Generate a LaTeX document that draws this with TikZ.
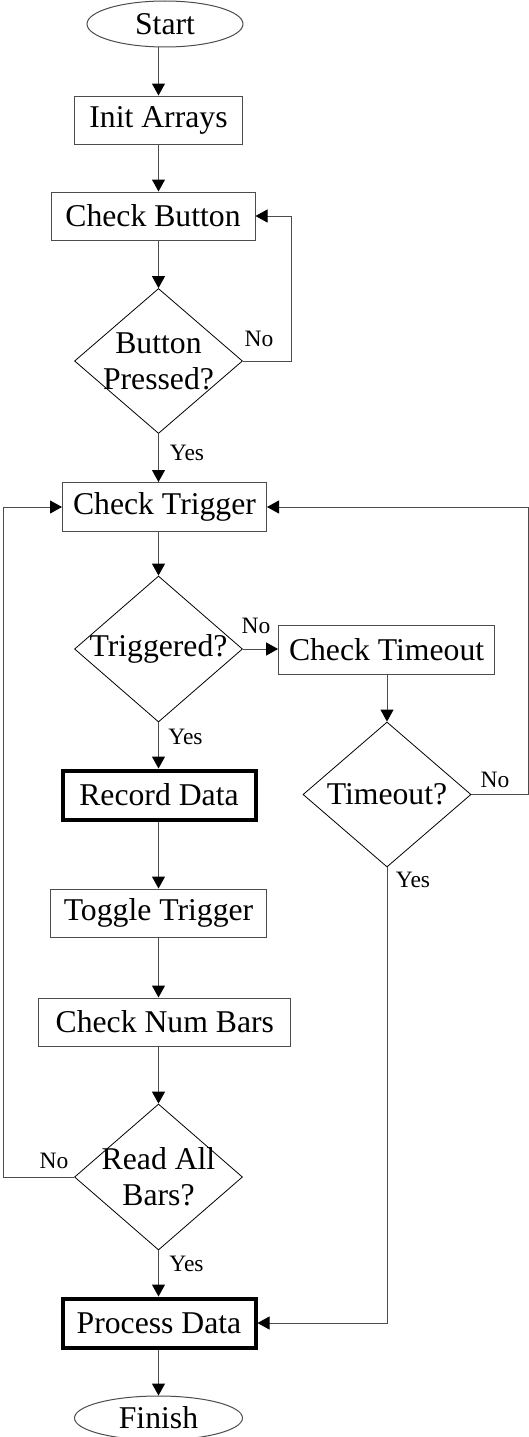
\documentclass[tikz,border=0pt]{standalone}
\usepackage{fontspec}
\setmainfont{Liberation Serif}
\usepackage{xcolor,tikz}
\usetikzlibrary{positioning,shapes.geometric,arrows.meta}
\tikzset{%
  block/.style={draw=black!70,line width=1pt,minimum height=48pt,inner sep=0pt},
  heavy/.style={draw=black,line width=4pt,minimum height=49pt,minimum width=193pt,inner sep=0pt},
  term/.style={ellipse,draw=black!70,line width=1pt,minimum height=46pt,inner sep=0pt},
  decide/.style={diamond,draw=black,line width=.8pt,minimum width=168pt,minimum height=145pt,inner sep=0pt},
  yn/.style={font=\fontsize{23.5}{26}\selectfont,inner sep=0pt},
  flow/.style={draw=black!70,line width=1pt,-{Triangle[length=12pt,width=13pt,color=black]}}
}

\begin{document}
\begin{tikzpicture}[x=1pt,y=-1pt,font=\fontsize{31.7}{36}\selectfont]
  \useasboundingbox (0,0) rectangle (529,1437);
  \coordinate (ax) at (158.5,0);
  \coordinate (bloop) at (291,0);
  \coordinate (lloop) at (3,0);
  \coordinate (rloop) at (528.5,0);

  \node[term,minimum width=156pt] (start) at (165,24) {Start};
  \node[block,minimum width=168pt] (init) at (158.5,120) {Init Arrays};
  \node[block,minimum width=204pt] (button) at (153,216) {Check Button};
  \node[decide,label={[align=center]center:Button\\Pressed?}] (pressed) at (158.5,361) {};
  \node[block,minimum width=204pt,minimum height=49pt] (trig) at (164.5,507) {Check Trigger};
  \node[decide,minimum height=146pt,label={center:Triggered?}] (trigd) at (158.5,649) {};
  \node[block,minimum width=216pt,minimum height=49pt] (tmo) at (386.6,649.5) {Check Timeout};
  \node[decide,label={center:Timeout?}] (tmod) at (387,794.5) {};
  \node[heavy] (rec) at (159,795) {Record Data};
  \node[block,minimum width=216pt] (tog) at (158.5,913) {Toggle Trigger};
  \node[block,minimum width=252pt] (nums) at (164.8,1022) {Check Num Bars};
  \node[decide,minimum height=146pt,label={[align=center]center:Read All\\Bars?}] (readall) at (158.5,1177) {};
  \node[heavy] (proc) at (159,1323) {Process Data};
  \node[term,minimum width=168pt,minimum height=44pt] (finish) at (158.5,1418) {Finish};

  \node[yn] (no1) at (259,339) {No};
  \node[yn] (yes1) at (187,453) {Yes};
  \node[yn] (no2) at (256,626) {No};
  \node[yn] (yes2) at (185.5,736.5) {Yes};
  \node[yn] (no3) at (495,780) {No};
  \node[yn] (yes3) at (413,880) {Yes};
  \node[yn] (no4) at (54,1161) {No};
  \node[yn] (yes4) at (186.5,1264) {Yes};

  \draw[flow] (start.south -| ax) -- (init.north -| ax);
  \draw[flow] (init.south -| ax) -- (button.north -| ax);
  \draw[flow] (button.south -| ax) -- (pressed.north);
  \draw[flow] (pressed.east) -- (pressed.east -| bloop) |- (button.east);
  \draw[flow] (pressed.south) -- (trig.north -| ax);
  \draw[flow] (trig.south -| ax) -- (trigd.north);
  \draw[flow] (trigd.east) -- (trigd.east -| tmo.west);
  \draw[flow] (tmo.south -| tmod) -- (tmod.north);
  \draw[flow] (tmod.east) -- (tmod.east -| rloop) |- (trig.east);
  \draw[flow] (tmod.south) |- (proc.east);
  \draw[flow] (trigd.south) -- (rec.north -| ax);
  \draw[flow] (rec.south -| ax) -- (tog.north -| ax);
  \draw[flow] (tog.south -| ax) -- (nums.north -| ax);
  \draw[flow] (nums.south -| ax) -- (readall.north);
  \draw[flow] (readall.west) -- (readall.west -| lloop) |- (trig.west);
  \draw[flow] (readall.south) -- (proc.north -| ax);
  \draw[flow] (proc.south -| ax) -- (finish.north -| ax);
\end{tikzpicture}
\end{document}
